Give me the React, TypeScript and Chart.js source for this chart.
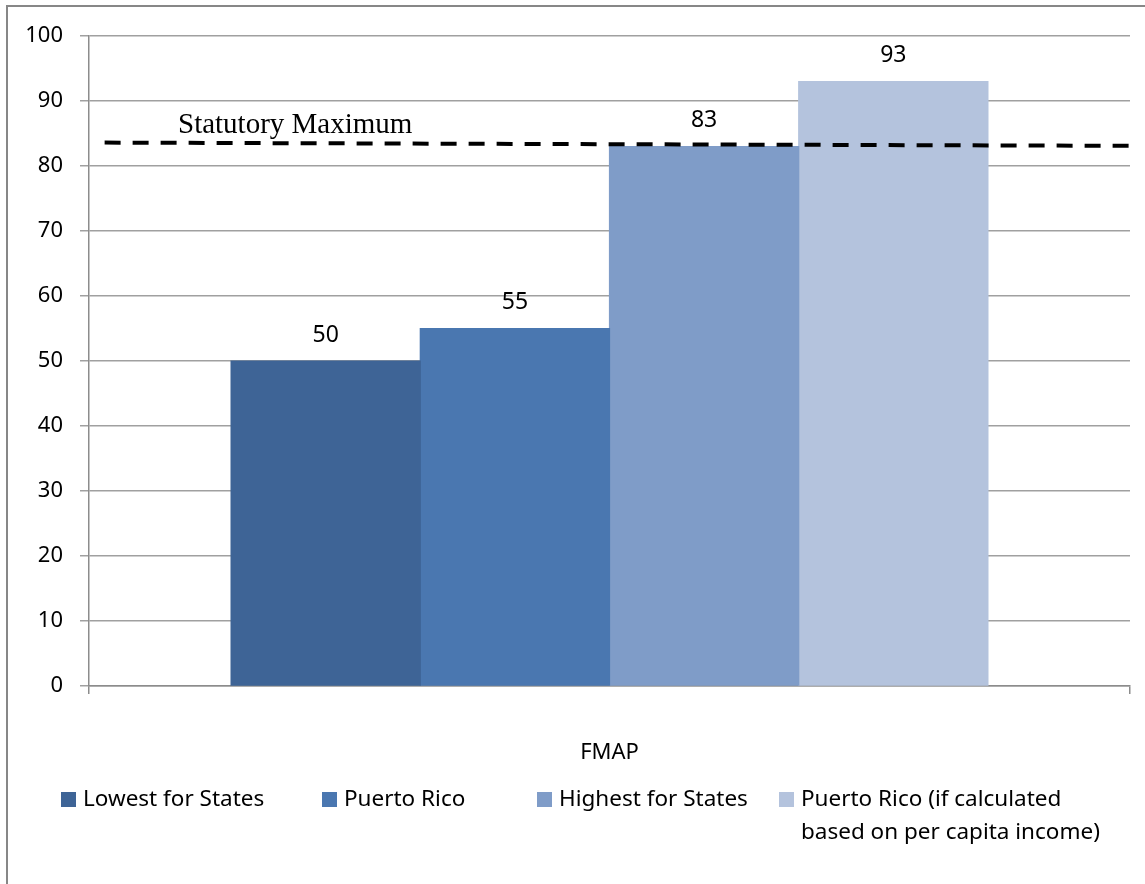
import React, { useEffect, useRef } from 'react';
import { Chart, registerables } from 'chart.js';

Chart.register(...registerables);

const categories = ['FMAP'];
const seriesNames = [
  'Lowest for States',
  'Puerto Rico',
  'Highest for States',
  'Puerto Rico (if calculated based on per capita income)',
];
const legendLines = [
  ['Lowest for States'],
  ['Puerto Rico'],
  ['Highest for States'],
  ['Puerto Rico (if calculated', 'based on per capita income)'],
];
const seriesValues = [50, 55, 83, 93];
const seriesColors = ['#3E6496', '#4A77B0', '#7F9CC8', '#B4C3DD'];
// statutory maximum dashed line: start/end as fraction of plot width, and values
const statutoryMaxX = [0.015, 1];
const statutoryMaxY = [83.6, 83.1];
const statutoryLabel = 'Statutory Maximum';

const SANS = '"Noto Sans", "Open Sans", sans-serif';
const SERIF = '"Liberation Serif", "DejaVu Serif", serif';

const decorPlugin = {
  id: 'decor',
  afterDatasetsDraw(chart: any) {
    const ctx = chart.ctx;
    const { left, right } = chart.chartArea;
    const y = chart.scales.y;
    ctx.save();
    ctx.strokeStyle = '#000';
    ctx.lineWidth = 4;
    ctx.setLineDash([16, 12]);
    ctx.beginPath();
    ctx.moveTo(left + (right - left) * statutoryMaxX[0], y.getPixelForValue(statutoryMaxY[0]));
    ctx.lineTo(left + (right - left) * statutoryMaxX[1], y.getPixelForValue(statutoryMaxY[1]));
    ctx.stroke();
    ctx.restore();
  },
  afterDraw(chart: any) {
    const ctx = chart.ctx;
    ctx.save();
    // outer frame
    ctx.strokeStyle = '#878787';
    ctx.lineWidth = 2;
    ctx.strokeRect(7, 6, 1300, 1000);

    // value labels
    ctx.fillStyle = '#000';
    ctx.font = `23px ${SANS}`;
    ctx.textAlign = 'center';
    ctx.textBaseline = 'middle';
    chart.data.datasets.forEach((ds: any, i: number) => {
      const meta = chart.getDatasetMeta(i);
      meta.data.forEach((el: any, j: number) => {
        ctx.fillText(String(ds.data[j]), el.x, el.y - 26);
      });
    });

    // statutory label
    const y = chart.scales.y;
    ctx.font = `29px ${SERIF}`;
    ctx.textAlign = 'left';
    ctx.textBaseline = 'alphabetic';
    ctx.fillText(statutoryLabel, 178, y.getPixelForValue(statutoryMaxY[0]) - 10);

    // legend
    const sx = [61, 322, 537, 779];
    ctx.font = `22.5px ${SANS}`;
    ctx.textBaseline = 'middle';
    legendLines.forEach((lines, i) => {
      ctx.fillStyle = seriesColors[i];
      ctx.fillRect(sx[i], 792, 15, 15);
      ctx.fillStyle = '#000';
      lines.forEach((t, k) => {
        ctx.fillText(t, sx[i] + 22, 800 + k * 33);
      });
    });
    ctx.restore();
  },
};

export default function App() {
  const ref = useRef<HTMLCanvasElement>(null);
  useEffect(() => {
    if (!ref.current) return;
    const datasets: any[] = seriesValues.map((v, i) => ({
      label: seriesNames[i],
      data: [v],
      backgroundColor: seriesColors[i],
      borderWidth: 0,
      inflateAmount: 0.6,
      barPercentage: 1,
      categoryPercentage: 0.727,
    }));
    const chart = new Chart(ref.current, {
      type: 'bar',
      data: { labels: categories, datasets },
      options: {
        responsive: false,
        animation: false,
        layout: { padding: { left: 0, top: 36, right: 15, bottom: 0 } },
        plugins: { legend: { display: false }, tooltip: { enabled: false } },
        scales: {
          x: {
            grid: { drawOnChartArea: false, color: '#8c8c8c', tickLength: 8, lineWidth: 1.5 },
            border: { color: '#8c8c8c', width: 1.5 },
            ticks: { color: '#000', font: { family: SANS, size: 22 }, padding: 46 },
            afterFit: (s: any) => { s.height = 198; },
          },
          y: {
            min: 0,
            max: 100,
            ticks: { stepSize: 10, color: '#000', font: { family: SANS, size: 22 }, padding: 17 },
            grid: { color: '#a0a0a0', lineWidth: 1.5, tickLength: 9 },
            border: { color: '#8c8c8c', width: 1.5 },
            afterFit: (s: any) => { s.width = 89; },
          },
        },
      } as any,
      plugins: [decorPlugin],
    });
    return () => chart.destroy();
  }, []);
  return (
    <div style={{ position: 'fixed', left: 0, top: 0, width: 1145, height: 884, background: '#fff' }}>
      <canvas ref={ref} width={1145} height={884} style={{ display: 'block' }} />
    </div>
  );
}
